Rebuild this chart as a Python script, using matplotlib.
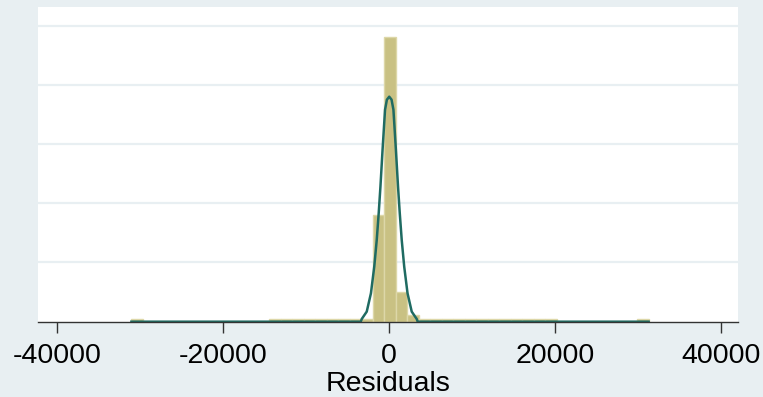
import numpy as np
import matplotlib
matplotlib.use("Agg")
import matplotlib.pyplot as plt

# -----------------------------------------------------------------------------
# Data (density in units of 1e-4)
# -----------------------------------------------------------------------------
bin_start = -31035
bin_width = 1385
density_e4 = [
    0.04,                                   # far left outlier
    0, 0, 0, 0, 0, 0, 0, 0, 0, 0, 0,
    0.04, 0.04, 0.04, 0.04, 0.04, 0.04, 0.04, 0.04, 0.04,
    1.81, 4.80, 0.50, 0.11,
    0.04, 0.04, 0.04, 0.04, 0.04, 0.04, 0.04, 0.04, 0.04, 0.04, 0.04, 0.04,
    0, 0, 0, 0, 0, 0, 0,
    0.04,                                   # far right outlier
]

# normal density overlay
curve_x = [-31035, -3400, -3280, -2680, -2175, -1775, -1475, -1235, -1030,
           -775, -475, -250, 30, 310, 535, 835, 1090, 1295, 1535, 1835, 2235,
           2740, 3340, 3460, 31290]
curve_y_e4 = [0.0, 0.0, 0.046, 0.17, 0.48, 0.93, 1.38, 1.84, 2.28,
              2.90, 3.58, 3.75, 3.80, 3.75, 3.58, 2.90, 2.28, 1.84, 1.38,
              0.93, 0.48, 0.17, 0.046, 0.0, 0.0]

x_ticks = [-40000, -20000, 0, 20000, 40000]
x_tick_labels = ["-40000", "-20000", "0", "20000", "40000"]
y_grid = [1e-4, 2e-4, 3e-4, 4e-4, 5e-4]
x_label = "Residuals"

# -----------------------------------------------------------------------------
plt.rcParams["font.family"] = ["Liberation Sans", "DejaVu Sans"]

BG = "#e8eff2"
BAR_FACE = "#c9c183"
BAR_EDGE = "#ddd7a8"
LINE = "#1f6b62"

fig = plt.figure(figsize=(7.63, 3.97), dpi=100, facecolor=BG)
ax = fig.add_axes([0.0498, 0.1897, 0.9174, 0.7919])
ax.set_facecolor("white")

density = np.array(density_e4) * 1e-4
lefts = bin_start + bin_width * np.arange(len(density))
keep = density > 0
ax.bar(lefts[keep], density[keep], width=bin_width, align="edge",
       color=BAR_FACE, edgecolor=BAR_EDGE, linewidth=1.0, zorder=2)

ax.plot(curve_x, np.array(curve_y_e4) * 1e-4, color=LINE, lw=1.8,
        solid_joinstyle="round", zorder=3)

ax.set_xlim(-42290, 42050)
ax.set_ylim(0, 5.31e-4)

# grid lines in background colour
for g in y_grid:
    ax.axhline(g, color=BG, lw=1.6, zorder=1)

ax.set_xticks(x_ticks)
ax.set_xticklabels(x_tick_labels, fontsize=20.5)
ax.set_yticks([])
ax.tick_params(axis="x", direction="out", length=8, width=1.0,
               color="#333333", pad=7)
ax.set_xlabel(x_label, fontsize=20.5, labelpad=2)

for side in ["left", "right", "top"]:
    ax.spines[side].set_visible(False)
ax.spines["bottom"].set_color("#333333")
ax.spines["bottom"].set_linewidth(1.0)
ax.spines["bottom"].set_zorder(4)

fig.savefig("out.png", dpi=100, facecolor=BG)
